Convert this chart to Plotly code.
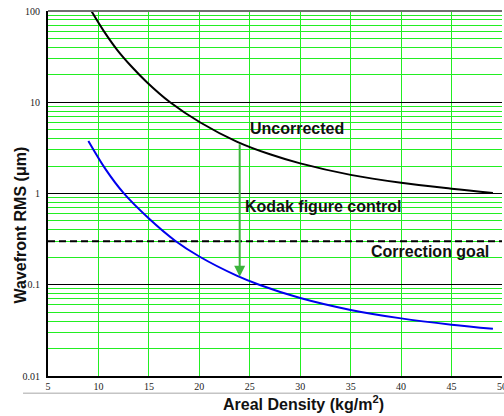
import numpy as np
import plotly.graph_objects as go

# Areal density (kg/m^2) vs wavefront RMS (um)
uncorr_x = [9.3, 10.5, 11.85, 13.3, 14.8, 17.1, 20.1, 23.7, 27, 30, 35, 40, 45, 49.1]
uncorr_y = [100, 61, 37.6, 24.5, 16.6, 10.0, 6.0, 3.71, 2.69, 2.14, 1.60, 1.31, 1.13, 1.015]

kodak_x = [9.0, 10.7, 12.5, 15.0, 17.6, 20.0, 23.7, 26.0, 30.0, 35.0, 40.0, 45.0, 49.1]
kodak_y = [3.76, 1.85, 1.008, 0.532, 0.304, 0.204, 0.126, 0.0995, 0.0716, 0.053, 0.0428, 0.0365, 0.0329]

goal_level = 0.3
arrow_x = 24

x_ticks = [5, 10, 15, 20, 25, 30, 35, 40, 45, 50]
y_ticks = [0.01, 0.1, 1, 10, 100]
y_ticktext = ["0.01", "0.1", "1", "10", "100"]

GREEN = "#22ee22"
SERIF = "Liberation Serif"
SANS = "Liberation Sans"

minor_vals = [m * 10.0 ** d for d in range(-2, 2) for m in range(2, 10)]

fig = go.Figure()

fig.add_trace(go.Scatter(
    x=[5, 50], y=[goal_level, goal_level], mode="lines",
    line=dict(color="black", width=2, dash="7px,4px"), hoverinfo="skip"))

fig.add_trace(go.Scatter(
    x=uncorr_x, y=uncorr_y, mode="lines", line_shape="spline",
    line=dict(color="black", width=2, smoothing=1)))

fig.add_trace(go.Scatter(
    x=kodak_x, y=kodak_y, mode="lines", line_shape="spline",
    line=dict(color="#0000ee", width=2, smoothing=1)))


def log_interp(x, xs, ys):
    return float(np.interp(x, xs, np.log10(ys)))


arrow_top = log_interp(arrow_x, uncorr_x, uncorr_y)
arrow_bottom = log_interp(arrow_x, kodak_x, kodak_y)

label_font = dict(family=SANS, size=16, color="#111111", weight="bold")

fig.add_annotation(
    x=arrow_x, y=arrow_bottom, ax=arrow_x, ay=arrow_top,
    xref="x", yref="y", axref="x", ayref="y", text="",
    showarrow=True, arrowhead=2, arrowsize=1.1, arrowwidth=2,
    arrowcolor="#3cb43c")

fig.add_annotation(x=29.7, y=0.715, text="Uncorrected", showarrow=False,
                   font=label_font)
fig.add_annotation(x=32.25, y=-0.137, text="Kodak figure control",
                   showarrow=False, font=label_font)
fig.add_annotation(x=42.86, y=-0.638, text="Correction goal",
                   showarrow=False, font=label_font)

# axis titles
fig.add_annotation(
    xref="paper", yref="paper", x=-0.0595, y=0.415,
    text="Wavefront RMS (μm)", textangle=-90, showarrow=False,
    xanchor="center", yanchor="middle", font=label_font)
fig.add_annotation(
    xref="paper", yref="paper", x=0.563, y=-0.075,
    text="Areal Density (kg/m<sup>2</sup>)", showarrow=False,
    xanchor="center", yanchor="middle", font=label_font)

# top frame and the rule beneath the tick labels
fig.add_shape(type="line", xref="paper", yref="paper", x0=0, x1=1, y0=1, y1=1,
              line=dict(color="#6e6e6e", width=2))
fig.add_shape(type="line", xref="paper", yref="paper", x0=-0.055, x1=1.01,
              y0=-0.0474, y1=-0.0474, line=dict(color="#c4c4c4", width=1.5))

fig.update_layout(
    width=504, height=416,
    margin=dict(l=48, r=2, t=11, b=40, autoexpand=False),
    paper_bgcolor="white", plot_bgcolor="white",
    showlegend=False,
    xaxis=dict(
        range=[5, 50], tickvals=x_ticks, showgrid=True, gridcolor=GREEN,
        gridwidth=1, zeroline=False, showline=True, linecolor="black",
        linewidth=2, ticks="", ticklabeloverflow="allow", automargin=False,
        tickfont=dict(family=SERIF, size=10, color="#222")),
    yaxis=dict(
        type="log", range=[-2, 2], tickvals=y_ticks, ticktext=y_ticktext,
        showgrid=True, gridcolor="black", gridwidth=1, zeroline=False,
        showline=True, linecolor="black", linewidth=2, ticks="",
        ticklabelstandoff=4, automargin=False,
        tickfont=dict(family=SERIF, size=10, color="#222"),
        minor=dict(tickvals=minor_vals, showgrid=True, gridcolor=GREEN,
                   gridwidth=1, ticks="")),
)

fig.write_html("out.html")
